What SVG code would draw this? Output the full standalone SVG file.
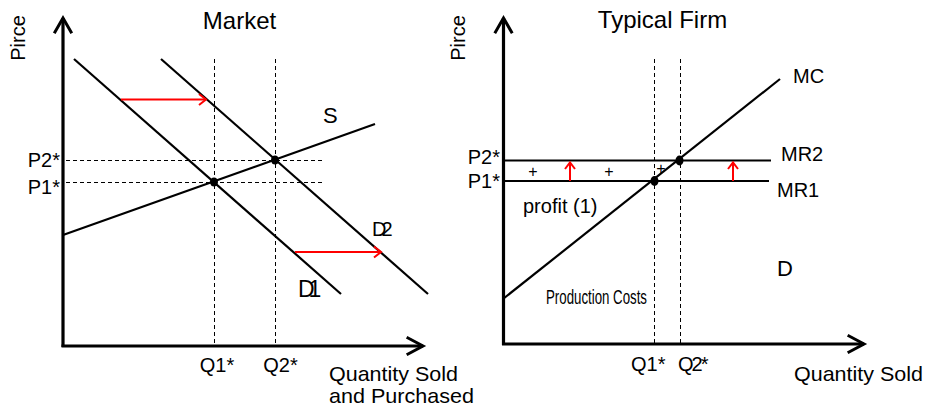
<svg xmlns="http://www.w3.org/2000/svg" width="925" height="408" viewBox="0 0 925 408">
<style>
text{font-family:"Liberation Sans",Arial,sans-serif;fill:#000}
.ax{stroke:#000;stroke-width:3.2;fill:none}
.ah{stroke:#000;stroke-width:3;fill:none;stroke-linecap:square}
.cv{stroke:#000;stroke-width:2.2;fill:none}
.ds{stroke:#000;stroke-width:1;stroke-dasharray:4,3;fill:none}
.rd{stroke:#f00;stroke-width:2;fill:none}
.lb{font-size:20px}
.ql{font-size:21px}
.tt{font-size:24px}
.pl{font-size:16px}
</style>
<rect width="925" height="408" fill="#fff"/>
<g id="market">
<g id="market-axes">
<line class="ax" x1="63" y1="18" x2="63" y2="347"/>
<line class="ax" x1="61.5" y1="346" x2="423" y2="346"/>
<polyline class="ah" points="55,32 63,18 71,32"/>
<polyline class="ah" points="408,338 423,346 408,354"/>
</g>
<text class="tt" x="239.5" y="29" text-anchor="middle">Market</text>
<text class="lb" transform="translate(25,38) rotate(-90)" text-anchor="middle">Pirce</text>
<g id="market-guides">
<line class="ds" x1="214.5" y1="59" x2="214.5" y2="345"/>
<line class="ds" x1="275.5" y1="59" x2="275.5" y2="345"/>
<line class="ds" x1="66" y1="160.5" x2="325" y2="160.5"/>
<line class="ds" x1="66" y1="182.5" x2="325" y2="182.5"/>
</g>
<g id="market-curves">
<line class="cv" x1="74" y1="59" x2="341" y2="294"/>
<line class="cv" x1="161" y1="59" x2="428" y2="294"/>
<line class="cv" x1="63" y1="235" x2="375" y2="124"/>
</g>
<g id="market-shifts">
<line class="rd" x1="121" y1="99.5" x2="206" y2="99.5"/>
<polyline class="rd" points="199,94 206,99.5 199,105"/>
<line class="rd" x1="295" y1="252" x2="381" y2="252"/>
<polyline class="rd" points="374,246.5 381,252 374,257.5"/>
</g>
<ellipse cx="214" cy="182" rx="4" ry="4.5"/>
<ellipse cx="275" cy="160" rx="4" ry="4.5"/>
<text x="323" y="123" font-size="22">S</text>
<text class="lb" x="372" y="236" letter-spacing="-5">D2</text>
<text x="298" y="297" font-size="23" letter-spacing="-6">D1</text>
<text class="lb" x="60" y="167" text-anchor="end">P2*</text>
<text class="lb" x="60" y="194" text-anchor="end">P1*</text>
<text class="lb" x="217" y="372" text-anchor="middle">Q1*</text>
<text class="lb" x="280.5" y="372" text-anchor="middle">Q2*</text>
<text class="ql" x="329" y="381" textLength="129" lengthAdjust="spacingAndGlyphs">Quantity Sold</text>
<text class="ql" x="329" y="403" textLength="145" lengthAdjust="spacingAndGlyphs">and Purchased</text>
</g>
<g id="firm">
<g id="firm-axes">
<line class="ax" x1="503.5" y1="18" x2="503.5" y2="345"/>
<line class="ax" x1="502" y1="344" x2="864" y2="344"/>
<polyline class="ah" points="495.5,32 503.5,18 511.5,32"/>
<polyline class="ah" points="849,336 864,344 849,352"/>
</g>
<text class="tt" x="662.5" y="28" text-anchor="middle">Typical Firm</text>
<text class="lb" transform="translate(465,38) rotate(-90)" text-anchor="middle">Pirce</text>
<g id="firm-guides">
<line class="ds" x1="654.5" y1="59" x2="654.5" y2="343"/>
<line class="ds" x1="680.5" y1="59" x2="680.5" y2="343"/>
</g>
<g id="firm-curves">
<line class="cv" x1="503" y1="299" x2="780" y2="79"/>
<line class="cv" x1="503" y1="160.5" x2="771" y2="160.5"/>
<line class="cv" x1="503" y1="181" x2="769" y2="181"/>
</g>
<g id="firm-shifts">
<line class="rd" x1="570" y1="181" x2="570" y2="163"/>
<polyline class="rd" points="565,169 570,162.5 575,169"/>
<line class="rd" x1="733" y1="181" x2="733" y2="163"/>
<polyline class="rd" points="728,169 733,162.5 738,169"/>
</g>
<ellipse cx="654.5" cy="181" rx="4" ry="5"/>
<ellipse cx="679.5" cy="160.5" rx="4" ry="5"/>
<text class="pl" x="533" y="177" text-anchor="middle">+</text>
<text class="pl" x="609" y="177" text-anchor="middle">+</text>
<text class="pl" x="661" y="174" text-anchor="middle">+</text>
<text class="lb" x="793" y="83">MC</text>
<text class="lb" x="781" y="161">MR2</text>
<text class="lb" x="777" y="197">MR1</text>
<text class="lb" x="500" y="164" text-anchor="end">P2*</text>
<text class="lb" x="500" y="188" text-anchor="end">P1*</text>
<text class="lb" x="523" y="213">profit (1)</text>
<text x="777" y="276" font-size="22">D</text>
<text x="546" y="304" font-size="20" textLength="101" lengthAdjust="spacingAndGlyphs">Production Costs</text>
<text class="lb" x="631" y="371">Q1*</text>
<text class="lb" x="678" y="371" letter-spacing="-2">Q2*</text>
<text class="ql" x="794" y="381" textLength="129" lengthAdjust="spacingAndGlyphs">Quantity Sold</text>
</g>
</svg>
